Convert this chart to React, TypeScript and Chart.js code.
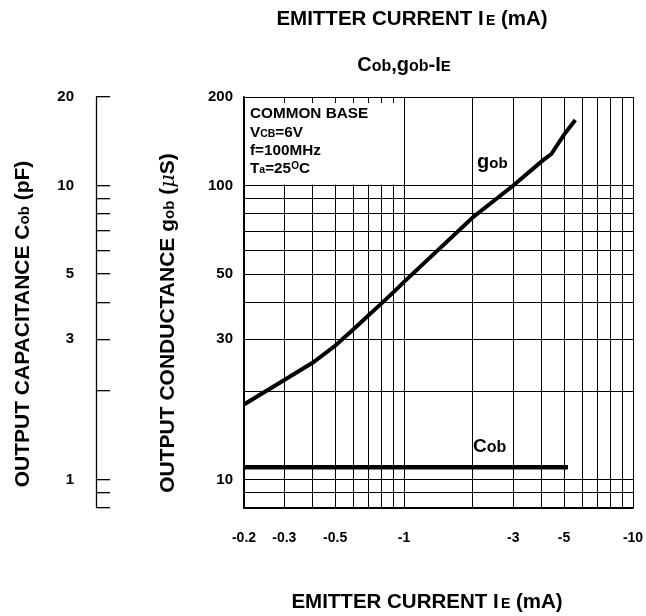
import React, { useEffect, useRef } from 'react';
import { Chart, registerables } from 'chart.js';

Chart.register(...registerables);

// ---- data ----
const gobCurrent = [0.2, 0.3, 0.4, 0.5, 0.6, 0.7, 0.8, 0.9, 1, 2, 3, 4, 4.4, 5, 5.6];
const gobValues = [18.0, 21.8, 25, 28.5, 32.4, 36.2, 39.8, 43.4, 47, 78, 100, 121, 128, 149, 167];
const cobCurrent = [0.2, 5.2];
const cobValues = [1.1, 1.1];

const xGridValues = [0.2, 0.3, 0.4, 0.5, 0.6, 0.7, 0.8, 0.9, 1, 2, 3, 4, 5, 6, 7, 8, 9, 10];
const xTickLabels = [0.2, 0.3, 0.5, 1, 3, 5, 10];
const gobGridValues = [8, 9, 10, 20, 30, 40, 50, 60, 70, 80, 90, 100, 200];
const gobTickLabels = [10, 30, 50, 100, 200];
const cobGridValues = [0.8, 0.9, 1, 2, 3, 4, 5, 6, 7, 8, 9, 10, 20];
const cobTickLabels = [1, 3, 5, 10, 20];

const FAM = '"Liberation Sans", Arial, Helvetica, sans-serif';

type Part = { t: string; size: number; dy?: number; italic?: boolean; family?: string; weight?: string };

function fontOf(p: Part) {
  return `${p.italic ? 'italic ' : ''}${p.weight ?? 'bold'} ${p.size}px ${p.family ?? FAM}`;
}

function drawRich(ctx: CanvasRenderingContext2D, parts: Part[], x: number, y: number, align: 'left' | 'center') {
  ctx.textBaseline = 'alphabetic';
  ctx.textAlign = 'left';
  const widths = parts.map((p) => {
    ctx.font = fontOf(p);
    return ctx.measureText(p.t).width;
  });
  const total = widths.reduce((a, b) => a + b, 0);
  let cx = align === 'center' ? x - total / 2 : x;
  parts.forEach((p, i) => {
    ctx.font = fontOf(p);
    ctx.fillText(p.t, cx, y + (p.dy ?? 0));
    cx += widths[i];
  });
}

const decorPlugin = {
  id: 'decor',
  beforeDatasetsDraw(chart: any) {
    const ctx: CanvasRenderingContext2D = chart.ctx;
    const xs = chart.scales.x;
    const ys = chart.scales.y;
    const l = xs.getPixelForValue(0.2) + 1;
    const r = xs.getPixelForValue(1) - 1;
    const t = ys.getPixelForValue(200) + 6;
    const b = ys.getPixelForValue(100) - 1;
    ctx.save();
    ctx.fillStyle = '#fff';
    ctx.fillRect(l, t, r - l, b - t);
    ctx.restore();
  },
  afterDraw(chart: any) {
    const ctx: CanvasRenderingContext2D = chart.ctx;
    const yc = chart.scales.yC;
    ctx.save();
    ctx.fillStyle = '#000';
    ctx.strokeStyle = '#000';
    // Cob axis spine (left end of its tick marks)
    const ax = Math.round(yc.right - 14) + 0.5;
    ctx.lineWidth = 1.3;
    ctx.beginPath();
    ctx.moveTo(ax, yc.getPixelForValue(20));
    ctx.lineTo(ax, yc.getPixelForValue(0.8));
    ctx.stroke();

    // top axis title
    drawRich(ctx, [
      { t: 'EMITTER CURRENT I', size: 20.5 },
      { t: ' ', size: 8 },
      { t: 'E', size: 14 },
      { t: ' (mA)', size: 20.5 },
    ], 412, 24.5, 'center');

    // chart title
    drawRich(ctx, [
      { t: 'C', size: 20 },
      { t: 'ob', size: 16 },
      { t: ',', size: 20 },
      { t: 'g', size: 20 },
      { t: 'ob', size: 16 },
      { t: '-I', size: 20 },
      { t: 'E', size: 15 },
    ], 404, 71, 'center');

    // bottom axis title
    drawRich(ctx, [
      { t: 'EMITTER CURRENT I', size: 20.5 },
      { t: ' ', size: 8 },
      { t: 'E', size: 14 },
      { t: ' (mA)', size: 20.5 },
    ], 427, 607.5, 'center');

    // left vertical titles
    ctx.save();
    ctx.translate(21, 324);
    ctx.rotate(-Math.PI / 2);
    drawRich(ctx, [
      { t: 'OUTPUT CAPACITANCE C', size: 21 },
      { t: 'ob', size: 15 },
      { t: ' (pF)', size: 21 },
    ], 0, 7.5, 'center');
    ctx.restore();

    ctx.save();
    ctx.translate(166, 323);
    ctx.rotate(-Math.PI / 2);
    drawRich(ctx, [
      { t: 'OUTPUT CONDUCTANCE g', size: 21 },
      { t: 'ob', size: 15 },
      { t: ' (', size: 21 },
      { t: 'μ', size: 21, italic: true, weight: 'normal', family: '"DejaVu Serif", "Liberation Serif", serif' },
      { t: 'S)', size: 21 },
    ], 0, 7.5, 'center');
    ctx.restore();

    // conditions box text
    drawRich(ctx, [{ t: 'COMMON BASE', size: 15.3 }], 250, 117.5, 'left');
    drawRich(ctx, [
      { t: 'V', size: 15.3 },
      { t: 'CB', size: 10.5 },
      { t: '=6V', size: 15.3 },
    ], 250, 136.5, 'left');
    drawRich(ctx, [{ t: 'f=100MHz', size: 15.3 }], 250, 154.5, 'left');
    drawRich(ctx, [
      { t: 'T', size: 15.3 },
      { t: 'a', size: 10.5 },
      { t: '=25', size: 15.3 },
      { t: 'O', size: 10, dy: -4 },
      { t: 'C', size: 15.3 },
    ], 250, 172.5, 'left');

    // curve labels
    drawRich(ctx, [
      { t: 'g', size: 20 },
      { t: 'ob', size: 15 },
    ], 477, 168, 'left');
    drawRich(ctx, [
      { t: 'C', size: 19 },
      { t: 'ob', size: 16 },
    ], 473, 451.5, 'left');

    ctx.restore();
  },
};

const tickFont = { family: FAM, size: 15, weight: 'bold' as const };

export default function App() {
  const ref = useRef<HTMLCanvasElement>(null);

  useEffect(() => {
    if (!ref.current) return;
    const chart = new Chart(ref.current, {
      type: 'line',
      data: {
        datasets: [
          {
            label: 'gob',
            data: gobCurrent.map((x, i) => ({ x, y: gobValues[i] })),
            xAxisID: 'x',
            yAxisID: 'y',
            borderColor: '#000',
            borderWidth: 4,
            pointRadius: 0,
            tension: 0,
            fill: false,
          },
          {
            label: 'Cob',
            data: cobCurrent.map((x, i) => ({ x, y: cobValues[i] })),
            xAxisID: 'x',
            yAxisID: 'yC',
            borderColor: '#000',
            borderWidth: 4.5,
            pointRadius: 0,
            tension: 0,
            fill: false,
            borderCapStyle: 'butt',
          },
        ],
      },
      options: {
        responsive: false,
        maintainAspectRatio: false,
        animation: false,
        devicePixelRatio: 1,
        layout: { padding: { top: 97, right: 13, bottom: 0, left: 0 } },
        plugins: {
          legend: { display: false },
          tooltip: { enabled: false },
          title: { display: false },
        },
        scales: {
          x: {
            type: 'logarithmic',
            position: 'bottom',
            min: 0.2,
            max: 10,
            afterBuildTicks: (s: any) => {
              s.ticks = xGridValues.map((v) => ({ value: v }));
            },
            afterFit: (s: any) => {
              s.height = 108;
              s.paddingLeft = 0;
              s.paddingRight = 0;
            },
            grid: { color: '#000', lineWidth: 1, drawTicks: false },
            border: { color: '#000', width: 1.5 },
            ticks: {
              autoSkip: false,
              maxRotation: 0,
              minRotation: 0,
              padding: 22,
              color: '#000',
              font: { family: FAM, size: 14, weight: 'bold' },
              callback: (v: any) => (xTickLabels.includes(Number(v)) ? '-' + v : ''),
            },
          },
          y: {
            type: 'logarithmic',
            position: 'left',
            weight: 0,
            min: 8,
            max: 200,
            afterBuildTicks: (s: any) => {
              s.ticks = gobGridValues.map((v) => ({ value: v }));
            },
            afterFit: (s: any) => {
              s.width = 134;
            },
            grid: { color: '#000', lineWidth: 1, drawTicks: false },
            border: { color: '#000', width: 1.5 },
            ticks: {
              autoSkip: false,
              padding: 11,
              color: '#000',
              font: tickFont,
              callback: (v: any) => (gobTickLabels.includes(Number(v)) ? String(v) : ''),
            },
          },
          yC: {
            type: 'logarithmic',
            position: 'left',
            weight: 1,
            min: 0.8,
            max: 20,
            afterBuildTicks: (s: any) => {
              s.ticks = cobGridValues.map((v) => ({ value: v }));
            },
            afterFit: (s: any) => {
              s.width = 110;
            },
            grid: { drawOnChartArea: false, drawTicks: true, tickLength: 14, color: '#000', lineWidth: 1.3 },
            border: { display: false },
            ticks: {
              autoSkip: false,
              padding: 22,
              color: '#000',
              font: tickFont,
              callback: (v: any) => (cobTickLabels.includes(Number(v)) ? String(v) : ''),
            },
          },
        },
      } as any,
      plugins: [decorPlugin],
    });
    return () => chart.destroy();
  }, []);

  return (
    <div style={{ position: 'absolute', left: 0, top: 0, width: 646, height: 616, background: '#fff' }}>
      <canvas ref={ref} width={646} height={616} style={{ display: 'block', width: 646, height: 616 }} />
    </div>
  );
}
